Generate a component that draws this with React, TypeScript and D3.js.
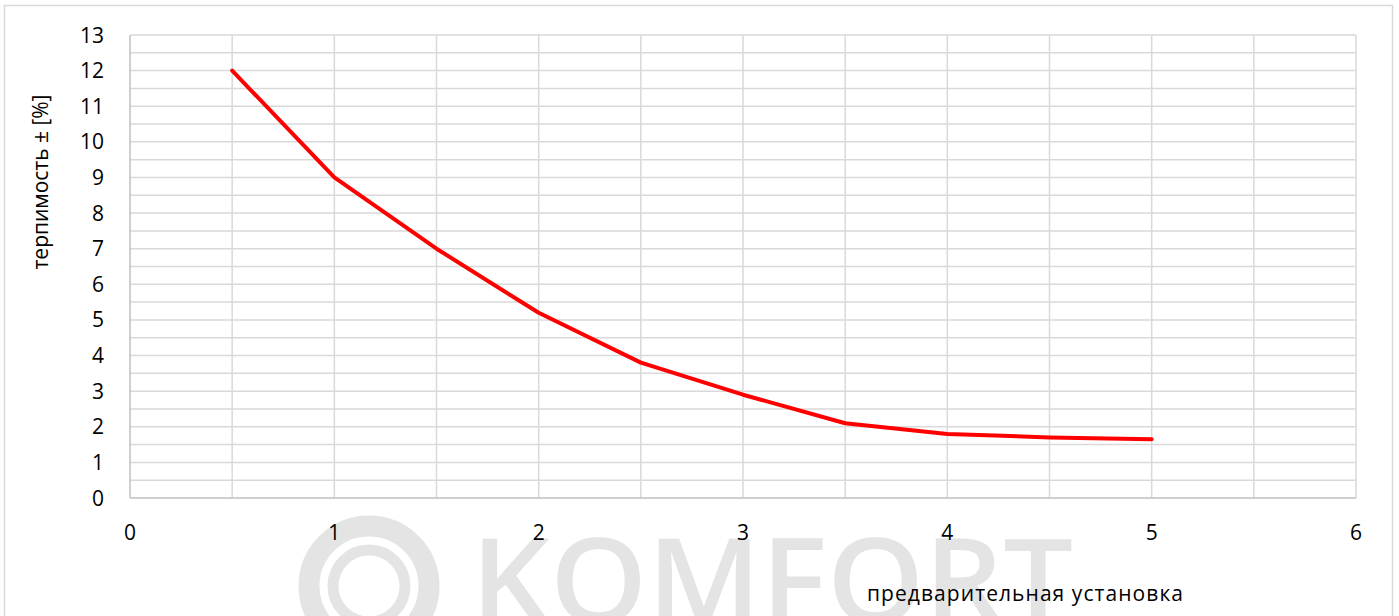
import React, { useRef, useEffect } from "react";
import * as d3 from "d3";

/* preset value -> tolerance ± % */
const PRESET = [0.5, 1, 1.5, 2, 2.5, 3, 3.5, 4, 4.5, 5];
const TOLERANCE = [12, 9, 7, 5.2, 3.8, 2.9, 2.1, 1.8, 1.7, 1.65];
const X_TICKS = [0, 1, 2, 3, 4, 5, 6];
const Y_TICKS = [0, 1, 2, 3, 4, 5, 6, 7, 8, 9, 10, 11, 12, 13];
const X_TITLE = "предварительная установка";
const Y_TITLE = "терпимость ± [%]";
const WATERMARK = "KOMFORT";

export default function App() {
  const svgRef = useRef<SVGSVGElement | null>(null);

  useEffect(() => {
    const W = 1399;
    const H = 616;
    const M = { top: 35, right: 43, bottom: 118, left: 130 };
    const iw = W - M.left - M.right;
    const ih = H - M.top - M.bottom;
    const font = "'Open Sans', sans-serif";

    const x = d3.scaleLinear().domain([0, 6]).range([0, iw]);
    const y = d3.scaleLinear().domain([0, 13]).range([ih, 0]);

    const svg = d3.select(svgRef.current);
    svg.selectAll("*").remove();

    /* ---- card ---- */
    svg
      .append("rect")
      .attr("x", 4.5)
      .attr("y", 5.5)
      .attr("width", 1388)
      .attr("height", 640)
      .attr("fill", "#fff")
      .attr("stroke", "#d9d9d9")
      .attr("stroke-width", 1.5);

    /* ---- watermark logo ---- */
    const wm = svg.append("g").attr("fill", "none").attr("stroke", "#e4e4e4");
    wm.append("circle").attr("cx", 369).attr("cy", 586).attr("r", 60).attr("stroke-width", 21);
    wm.append("circle").attr("cx", 369).attr("cy", 586).attr("r", 36).attr("stroke-width", 11);
    svg
      .append("text")
      .attr("x", 471)
      .attr("y", 623)
      .attr("fill", "#e4e4e4")
      .attr("textLength", 602)
      .attr("lengthAdjust", "spacingAndGlyphs")
      .style("font-family", "'Open Sans', sans-serif")
      .style("font-weight", 600)
      .style("font-size", "118px")
      .text(WATERMARK);

    const g = svg.append("g").attr("transform", `translate(${M.left},${M.top})`);

    /* ---- grid every 0.5 ---- */
    const xGrid = d3.range(0.5, 6.01, 0.5);
    const yGrid = d3.range(0.5, 13.01, 0.5);
    g.append("g")
      .selectAll("line")
      .data(xGrid)
      .enter()
      .append("line")
      .attr("x1", (d) => x(d))
      .attr("x2", (d) => x(d))
      .attr("y1", 0)
      .attr("y2", ih)
      .attr("stroke", "#d9d9d9")
      .attr("stroke-width", 1.5);
    g.append("g")
      .selectAll("line")
      .data(yGrid)
      .enter()
      .append("line")
      .attr("x1", 0)
      .attr("x2", iw)
      .attr("y1", (d) => y(d))
      .attr("y2", (d) => y(d))
      .attr("stroke", "#d9d9d9")
      .attr("stroke-width", 1.5);

    /* ---- axis lines ---- */
    g.append("line")
      .attr("x1", 0)
      .attr("x2", iw)
      .attr("y1", ih)
      .attr("y2", ih)
      .attr("stroke", "#bfbfbf")
      .attr("stroke-width", 1.5);
    g.append("line")
      .attr("x1", 0)
      .attr("x2", 0)
      .attr("y1", 0)
      .attr("y2", ih)
      .attr("stroke", "#bfbfbf")
      .attr("stroke-width", 1.5);

    /* ---- tick labels ---- */
    g.append("g")
      .selectAll("text")
      .data(X_TICKS)
      .enter()
      .append("text")
      .attr("x", (d) => x(d))
      .attr("y", ih + 42)
      .attr("text-anchor", "middle")
      .attr("fill", "#000")
      .style("font-family", font)
      .style("font-size", "21px")
      .text((d) => d);
    g.append("g")
      .selectAll("text")
      .data(Y_TICKS)
      .enter()
      .append("text")
      .attr("x", -26)
      .attr("y", (d) => y(d) + 7.5)
      .attr("text-anchor", "end")
      .attr("fill", "#000")
      .style("font-family", font)
      .style("font-size", "21px")
      .text((d) => d);

    /* ---- series ---- */
    const pts = PRESET.map((p, i) => [p, TOLERANCE[i]] as [number, number]);
    const line = d3
      .line<[number, number]>()
      .x((d) => x(d[0]))
      .y((d) => y(d[1]));
    g.append("path")
      .datum(pts)
      .attr("d", line)
      .attr("fill", "none")
      .attr("stroke", "#ff0000")
      .attr("stroke-width", 4)
      .attr("stroke-linejoin", "round")
      .attr("stroke-linecap", "round");

    /* ---- axis titles ---- */
    svg
      .append("text")
      .attr("x", 1025)
      .attr("y", 601)
      .attr("text-anchor", "middle")
      .attr("fill", "#000")
      .attr("textLength", 316)
      .style("font-family", font)
      .style("font-size", "21px")
      .text(X_TITLE);
    svg
      .append("text")
      .attr("transform", "translate(48,182) rotate(-90)")
      .attr("text-anchor", "middle")
      .attr("fill", "#000")
      .attr("textLength", 175)
      .style("font-family", font)
      .style("font-size", "21px")
      .text(Y_TITLE);
  }, []);

  return (
    <svg
      ref={svgRef}
      width={1399}
      height={616}
      style={{ position: "absolute", left: 0, top: 0, display: "block" }}
    />
  );
}
